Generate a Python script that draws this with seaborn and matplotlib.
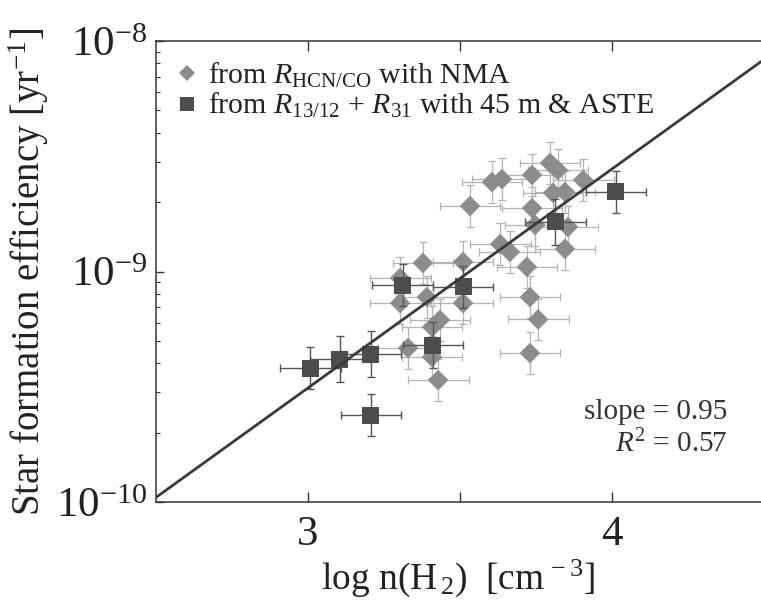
import numpy as np
import pandas as pd
import matplotlib
matplotlib.use("Agg")
import matplotlib.pyplot as plt
from matplotlib.lines import Line2D
from matplotlib.ticker import NullFormatter, FixedLocator
import seaborn as sns

# ---- data ----
# diamonds: from R_HCN/CO with NMA
nma_logn = [3.533, 3.605, 3.638, 3.737, 3.796, 3.822, 3.806, 3.845, 3.905, 3.737,
            3.747, 3.855, 3.632, 3.664, 3.845, 3.720, 3.510, 3.378, 3.303, 3.303,
            3.391, 3.510, 3.730, 3.757, 3.434, 3.408, 3.329, 3.408, 3.730, 3.428]
nma_logsfe = [-8.716, -8.612, -8.599, -8.581, -8.529, -8.560, -8.659, -8.655, -8.603, -8.725,
              -8.798, -8.807, -8.881, -8.915, -8.902, -8.980, -8.959, -8.963, -9.028, -9.137,
              -9.111, -9.137, -9.111, -9.208, -9.210, -9.241, -9.332, -9.371, -9.354, -9.471]
nma_xerr = [0.10, 0.10, 0.10, 0.10, 0.10, 0.10, 0.10, 0.10, 0.10, 0.10,
            0.10, 0.10, 0.10, 0.10, 0.10, 0.10, 0.10, 0.10, 0.10, 0.10,
            0.10, 0.10, 0.10, 0.10, 0.10, 0.10, 0.10, 0.10, 0.10, 0.10]
nma_yerr_dex = [0.09, 0.09, 0.09, 0.09, 0.09, 0.09, 0.09, 0.09, 0.09, 0.09,
                0.09, 0.09, 0.09, 0.09, 0.09, 0.09, 0.09, 0.09, 0.09, 0.09,
                0.09, 0.09, 0.09, 0.09, 0.09, 0.09, 0.09, 0.09, 0.09, 0.09]

# squares: from R13/12 + R31 with 45 m & ASTE
aste_logn = [3.007, 3.105, 3.207, 3.207, 3.411, 3.312, 3.510, 3.813, 4.013]
aste_logsfe = [-9.419, -9.380, -9.358, -9.623, -9.319, -9.059, -9.067, -8.785, -8.655]
aste_xerr = [0.10, 0.10, 0.10, 0.10, 0.10, 0.10, 0.10, 0.10, 0.10]
aste_yerr_dex = [0.09, 0.10, 0.10, 0.09, 0.10, 0.09, 0.09, 0.10, 0.09]

fit_slope = 0.95
fit_r2 = 0.57
fit_intercept = -12.355

x_ticks = [3.0, 3.5, 4.0]
x_ticklabels = ["3", "", "4"]
y_ticks = [1e-10, 1e-9, 1e-8]
y_ticklabels = [r"10$^{-10}$", r"10$^{-9}$", r"10$^{-8}$"]

# ---- style ----
sns.set_style("ticks")
plt.rcParams["font.family"] = ["Liberation Serif", "DejaVu Serif"]
plt.rcParams["mathtext.fontset"] = "custom"
plt.rcParams["mathtext.rm"] = "Liberation Serif"
plt.rcParams["mathtext.it"] = "Liberation Serif:italic"
plt.rcParams["mathtext.bf"] = "Liberation Serif:bold"
plt.rcParams["axes.unicode_minus"] = False

ink = "#333333"
diamond_c = "#8c8c8c"
square_c = "#4d4d4d"

fig = plt.figure(figsize=(7.61, 6.07), dpi=100)
ax = fig.add_axes([156 / 761, 105 / 607, 605 / 761, 461 / 607])

nma = pd.DataFrame({"logn": nma_logn, "sfe": 10.0 ** np.array(nma_logsfe)})
aste = pd.DataFrame({"logn": aste_logn, "sfe": 10.0 ** np.array(aste_logsfe)})

def asym(sfe, dex):
    sfe = np.asarray(sfe)
    dex = np.asarray(dex)
    return np.vstack([sfe * (1 - 10.0 ** -dex), sfe * (10.0 ** dex - 1)])

ax.errorbar(nma["logn"], nma["sfe"], xerr=nma_xerr, yerr=asym(nma["sfe"], nma_yerr_dex),
            fmt="none", ecolor="#b4b4b4", elinewidth=0.9, capsize=3, capthick=0.9, zorder=1)
sns.scatterplot(data=nma, x="logn", y="sfe", marker="D", s=110, color=diamond_c,
                edgecolor="none", linewidth=0, ax=ax, zorder=2)
ax.errorbar(aste["logn"], aste["sfe"], xerr=aste_xerr, yerr=asym(aste["sfe"], aste_yerr_dex),
            fmt="none", ecolor="#555555", elinewidth=1.0, capsize=3, capthick=1.0, zorder=3)
sns.scatterplot(data=aste, x="logn", y="sfe", marker="s", s=150, color=square_c,
                edgecolor="none", linewidth=0, ax=ax, zorder=4)

xl = np.array([2.5, 4.49])
sns.lineplot(x=xl, y=10.0 ** (fit_intercept + fit_slope * xl), color="#3a3a3a",
             linewidth=2.0, ax=ax, zorder=5)

ax.set_yscale("log")
ax.set_xlim(2.5, 4.49)
ax.set_ylim(1e-10, 1e-8)
ax.set_xticks(x_ticks)
ax.set_xticklabels(x_ticklabels)
ax.yaxis.set_major_locator(FixedLocator(y_ticks))
ax.set_yticklabels(y_ticklabels)
ax.yaxis.set_minor_formatter(NullFormatter())

for s in ["left", "top", "bottom"]:
    ax.spines[s].set_color(ink)
    ax.spines[s].set_linewidth(1.1)
ax.spines["right"].set_visible(False)

ax.tick_params(axis="x", which="major", direction="in", top=True, bottom=True,
               length=7, width=1.0, color=ink, labelsize=31, pad=10, labelcolor="#222222")
ax.tick_params(axis="y", which="major", direction="in", left=True, right=False,
               length=6, width=1.0, color=ink, labelsize=31, pad=6, labelcolor="#222222")
ax.tick_params(axis="y", which="minor", direction="in", left=True, right=False,
               length=3, width=0.8, color=ink)

ax.set_xlabel(r"log n(H$_{\,2}$)  [cm$^{\,-3}$]", fontsize=27, color="#222222", labelpad=2)
ax.set_ylabel(r"Star formation efficiency [yr$^{-1}$]", fontsize=28, color="#222222", labelpad=4)

handles = [
    Line2D([], [], marker="D", linestyle="none", markersize=8.5, color=diamond_c, markeredgewidth=0),
    Line2D([], [], marker="s", linestyle="none", markersize=10.5, color=square_c, markeredgewidth=0),
]
labels = [r"from $\mathit{R}_{\mathrm{HCN/CO}}$ with NMA",
          r"from $\mathit{R}_{\mathrm{13/12}}$ + $\mathit{R}_{\mathrm{31}}$ with 45 m & ASTE"]
ax.legend(handles, labels, loc="upper left", bbox_to_anchor=(0.0, 1.003), frameon=False,
          fontsize=21.5, handlelength=0.7, handletextpad=0.35, labelspacing=0.05,
          borderaxespad=0.3, labelcolor="#222222")

fig.text(727 / 761, 1 - 412 / 607, f"slope = {fit_slope:.2f}", ha="right", va="center",
         fontsize=21, color="#333333")
fig.text(727 / 761, 1 - 444 / 607, r"$\mathit{R}^{2}$" + f" = {fit_r2:.2f}", ha="right", va="center",
         fontsize=21, color="#333333")

fig.savefig("out.png", dpi=100)
